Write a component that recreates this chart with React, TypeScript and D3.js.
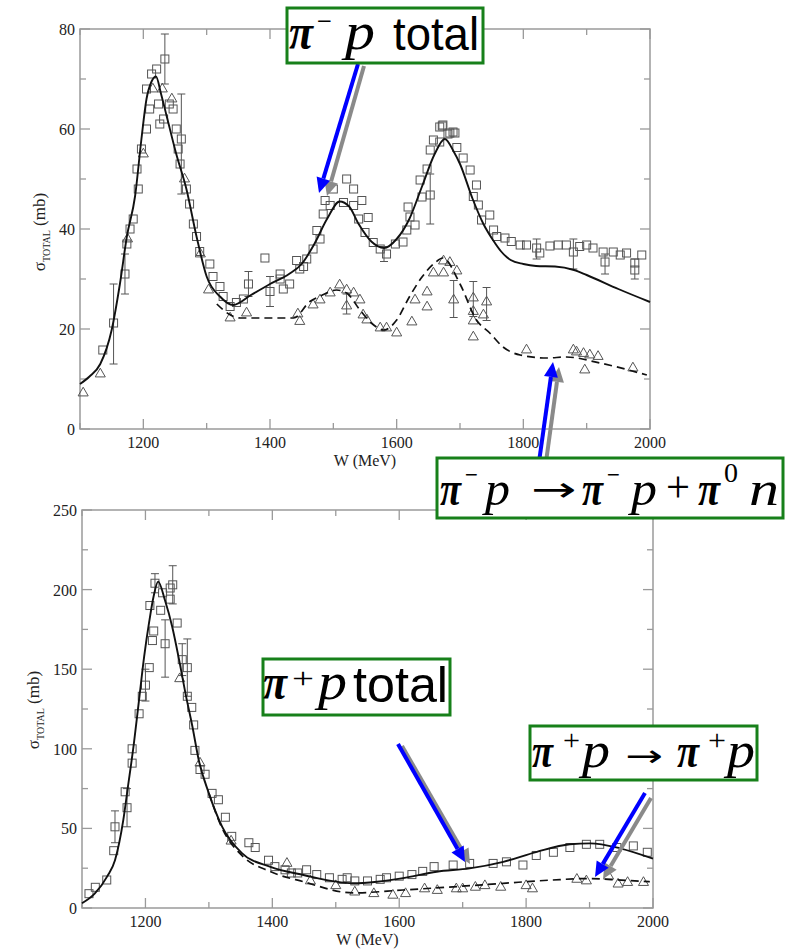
import React from 'react';
import * as d3 from 'd3';

type P = [number, number];
type E = [number, number, number];

// ---------- axis ticks ----------
const xMajorTicks = [1200, 1400, 1600, 1800, 2000];
const xMinorTicks = [1100, 1300, 1500, 1700, 1900];
const topYTicks = [0, 20, 40, 60, 80];
const topYMinor = [10, 30, 50, 70];
const botYTicks = [0, 50, 100, 150, 200, 250];
const botYMinor = [25, 75, 125, 175, 225];

// ---------- top panel: pi- p ----------
const topFitTotal: P[] = [
  [1100, 9], [1115, 10.5], [1132, 13], [1150, 19.8], [1163, 29], [1174, 38.5], [1187, 46.6],
  [1197, 58], [1205, 66], [1213, 69.5], [1220, 70.5], [1228, 67], [1237, 62.5], [1252, 55],
  [1268, 48], [1284, 38.5], [1300, 30.5], [1321, 26.5], [1342, 24.8], [1370, 26.8], [1400, 29],
  [1430, 31], [1450, 33], [1470, 37], [1490, 42], [1510, 45.5], [1525, 44.5], [1540, 41],
  [1560, 37.5], [1580, 36.2], [1600, 38], [1620, 42], [1640, 48.5], [1660, 55], [1676, 58],
  [1690, 55.5], [1700, 53], [1720, 46], [1737, 41], [1752, 37.8], [1765, 35.5], [1780, 33.8],
  [1800, 33], [1820, 32.6], [1850, 32.5], [1880, 31.8], [1900, 30.8], [1950, 28], [2000, 25.4],
];
const topFitDashed: P[] = [
  [1316, 25], [1335, 23], [1353, 22.2], [1400, 22.2], [1437, 22.2], [1463, 25.5], [1480, 26.6],
  [1505, 27.8], [1521, 27.2], [1542, 23.8], [1560, 21.2], [1580, 19.8], [1600, 21.8], [1620, 26.4],
  [1640, 30.4], [1660, 33.2], [1673, 34.2], [1700, 29], [1726, 21.8], [1747, 19.2], [1768, 16.4],
  [1795, 14.8], [1837, 14.2], [1868, 14.4], [1921, 13.2], [1995, 10.8],
];
const topSquares: P[] = [
  [1136, 15.8], [1153, 21.2], [1171, 31], [1174, 37], [1179, 40], [1184, 42], [1192, 48], [1190, 52],
  [1197, 56], [1205, 60], [1210, 64], [1205, 68], [1213, 71], [1221, 72], [1234, 74], [1224, 65],
  [1232, 62], [1226, 61], [1241, 65], [1247, 64], [1252, 60], [1260, 58], [1255, 56], [1258, 53],
  [1268, 48], [1273, 45], [1279, 41], [1284, 38.5], [1289, 35.5], [1305, 33], [1310, 30.5],
  [1321, 28.5], [1326, 26.5], [1337, 24.5], [1347, 25.3], [1358, 26], [1366, 29], [1392, 34.2],
  [1400, 27.5], [1416, 30], [1416, 31], [1421, 28], [1431, 29], [1442, 33.7], [1447, 32],
  [1453, 32.5], [1458, 34], [1468, 36], [1474, 39.7], [1479, 38], [1484, 43], [1487, 45.7],
  [1495, 44.7], [1500, 48], [1521, 50], [1532, 48], [1516, 45.3], [1532, 44.7], [1545, 45.7],
  [1540, 42], [1555, 42.3], [1550, 39.3], [1563, 37.3], [1574, 36], [1584, 35], [1598, 37],
  [1610, 37.4], [1616, 39.8], [1621, 42.4], [1618, 44.4], [1629, 40.8], [1637, 49.8], [1640, 46.4],
  [1653, 46.8], [1648, 52], [1653, 55.8], [1658, 57.8], [1668, 60.4], [1672, 60.6], [1684, 59.2],
  [1689, 59.4], [1668, 57.4], [1673, 60.8], [1681, 59], [1692, 59.2], [1695, 56.3], [1705, 54.2],
  [1716, 51.8], [1726, 48.8], [1721, 46.5], [1729, 44.8], [1734, 41.8], [1747, 42.8], [1753, 39.8],
  [1758, 38.5], [1771, 38.2], [1781, 37.5], [1795, 36.8], [1805, 36.8], [1821, 36.2], [1826, 35.2],
  [1842, 36.6], [1855, 36.8], [1868, 36.8], [1879, 35.4], [1889, 36.5], [1900, 36.8], [1910, 36.2],
  [1926, 35.4], [1929, 33.4], [1942, 35.4], [1953, 34.8], [1963, 35.2], [1976, 33.2], [1976, 31.8],
  [1987, 34.8],
];
const topSquareErr: E[] = [
  [1153, 21, 8], [1171, 31, 4], [1234, 74, 5], [1260, 57, 10], [1366, 29, 2.5], [1400, 27.5, 3],
  [1580, 35, 1.5], [1653, 46, 5], [1821, 36, 2], [1879, 35, 3], [1929, 33, 2], [1976, 32, 2],
];
const topTriangles: P[] = [
  [1105, 7.2], [1132, 11], [1175, 38], [1200, 55], [1215, 68], [1230, 68], [1245, 66], [1265, 50],
  [1290, 35], [1303, 27.8], [1337, 22.2], [1363, 23.2], [1444, 23], [1447, 21.5], [1468, 24.8],
  [1479, 25.8], [1495, 27.2], [1510, 28.8], [1521, 27.8], [1521, 24.6], [1532, 27.2], [1542, 25.8],
  [1547, 22.8], [1553, 21.8], [1574, 20.2], [1584, 20.2], [1600, 19.2], [1624, 21.4], [1629, 25.8],
  [1648, 27.4], [1648, 24.4], [1658, 31.2], [1674, 33.6], [1674, 31.2], [1684, 33.3], [1690, 25.8],
  [1695, 31.6], [1721, 26.2], [1742, 25.4], [1721, 23.5], [1737, 22.8], [1721, 21.6], [1721, 18.4],
  [1805, 15.8], [1879, 15.8], [1884, 15.4], [1895, 15.1], [1905, 14.8], [1918, 14.5], [1897, 11.8],
  [1973, 12.2],
];
const topTriangleErr: E[] = [
  [1521, 25, 2], [1690, 26, 3.7], [1721, 26, 3.5], [1742, 25, 3.3],
];

// ---------- bottom panel: pi+ p ----------
const botFitTotal: P[] = [
  [1100, 3], [1120, 9], [1140, 20], [1152, 30], [1165, 55], [1172, 75], [1182, 104], [1190, 131],
  [1198, 158], [1206, 180], [1213, 196], [1220, 205], [1231, 193], [1242, 177], [1253, 156],
  [1263, 135], [1274, 114], [1284, 93], [1300, 72], [1321, 51], [1352, 34.5], [1396, 26],
  [1449, 20.7], [1527, 15.5], [1565, 16.5], [1606, 18.8], [1659, 22.8], [1711, 24.9], [1764, 29],
  [1817, 35.3], [1869, 40], [1901, 40.6], [1948, 37.5], [2000, 31],
];
const botFitDashed: P[] = [
  [1300, 72], [1321, 50], [1352, 33], [1396, 23], [1449, 16.5], [1527, 9.5], [1606, 11.3],
  [1685, 13.3], [1764, 15.5], [1842, 17.6], [1895, 18.5], [1950, 17.5], [1995, 16.5],
];
const botSquares: P[] = [
  [1111, 9], [1121, 13], [1139, 17.6], [1150, 36], [1152, 51], [1171, 63], [1168, 73], [1179, 91],
  [1179, 100], [1190, 122], [1195, 133], [1200, 140], [1206, 151], [1211, 168], [1213, 174],
  [1207, 190], [1215, 204], [1227, 198], [1224, 187], [1231, 166], [1239, 201], [1239, 194],
  [1243, 203], [1250, 179], [1258, 156], [1266, 151], [1266, 133], [1273, 126], [1276, 115],
  [1278, 99], [1286, 87], [1294, 84], [1305, 72], [1315, 68], [1326, 57], [1336, 45], [1363, 41],
  [1373, 38], [1394, 30], [1404, 26], [1420, 24], [1430, 22], [1440, 22], [1454, 24], [1470, 21],
  [1490, 19], [1510, 18], [1518, 19], [1530, 17], [1550, 17], [1570, 18], [1580, 19], [1600, 20],
  [1620, 21], [1637, 23], [1655, 26], [1685, 27], [1711, 28], [1748, 28], [1769, 29], [1795, 27],
  [1816, 33], [1843, 35], [1869, 38], [1895, 40], [1916, 40], [1943, 38], [1969, 39], [1991, 35],
];
const botSquareErr: E[] = [
  [1152, 51, 10], [1171, 63, 12], [1200, 140, 10], [1215, 204, 6], [1231, 163, 18],
  [1243, 203, 12], [1258, 156, 10], [1266, 151, 18],
];
const botTriangles: P[] = [
  [1254, 144], [1286, 91], [1335, 42], [1423, 28], [1460, 17], [1500, 14], [1530, 10], [1560, 9],
  [1590, 8], [1610, 9], [1640, 12], [1660, 11], [1690, 12], [1700, 12], [1720, 13], [1735, 14],
  [1760, 13], [1800, 14], [1810, 12], [1880, 18], [1895, 17], [1930, 20], [1945, 15], [1960, 16],
  [1985, 16],
];

// ---------- styling ----------
const SERIF = '"Liberation Serif", "DejaVu Serif", serif';
const SANS = '"Liberation Sans", Arial, sans-serif';
const ARROWFONT = '"DejaVu Sans", sans-serif';
const FRAME = '#9a9a9a';
const GREEN = '#17801a';

type PanelProps = {
  x0: number; x1: number; y0: number; y1: number; yMax: number;
  yTicks: number[]; yMinor: number[];
  fit: P[]; dashed: P[]; squares: P[]; triangles: P[]; sqErr: E[]; trErr: E[];
  yLabelX: number; yLabelY: number;
};

function Panel(p: PanelProps) {
  const x = d3.scaleLinear().domain([1100, 2000]).range([p.x0, p.x1]);
  const y = d3.scaleLinear().domain([0, p.yMax]).range([p.y1, p.y0]);
  const line = d3.line<P>().x(d => x(d[0])).y(d => y(d[1])).curve(d3.curveMonotoneX);
  const tri = d3.symbol().type(d3.symbolTriangle).size(44)() as string;
  const major = 10, minor = 6;
  const err = (list: E[], key: string) =>
    list.map((e, i) => {
      const cx = x(e[0]);
      const ya = y(e[1] + e[2]), yb = y(e[1] - e[2]);
      return (
        <g key={key + i} stroke="#555" strokeWidth={1}>
          <line x1={cx} x2={cx} y1={ya} y2={yb} />
          <line x1={cx - 4} x2={cx + 4} y1={ya} y2={ya} />
          <line x1={cx - 4} x2={cx + 4} y1={yb} y2={yb} />
        </g>
      );
    });
  return (
    <g>
      <rect x={p.x0} y={p.y0} width={p.x1 - p.x0} height={p.y1 - p.y0} fill="none" stroke={FRAME} strokeWidth={1.5} />
      <g stroke={FRAME} strokeWidth={1.3}>
        {xMajorTicks.map(t => (
          <g key={'xm' + t}>
            <line x1={x(t)} x2={x(t)} y1={p.y1} y2={p.y1 - major} />
            <line x1={x(t)} x2={x(t)} y1={p.y0} y2={p.y0 + major} />
          </g>
        ))}
        {xMinorTicks.map(t => (
          <g key={'xn' + t}>
            <line x1={x(t)} x2={x(t)} y1={p.y1} y2={p.y1 - minor} />
            <line x1={x(t)} x2={x(t)} y1={p.y0} y2={p.y0 + minor} />
          </g>
        ))}
        {p.yTicks.map(t => (
          <g key={'ym' + t}>
            <line x1={p.x0} x2={p.x0 + major} y1={y(t)} y2={y(t)} />
            <line x1={p.x1} x2={p.x1 - major} y1={y(t)} y2={y(t)} />
          </g>
        ))}
        {p.yMinor.map(t => (
          <g key={'yn' + t}>
            <line x1={p.x0} x2={p.x0 + minor} y1={y(t)} y2={y(t)} />
            <line x1={p.x1} x2={p.x1 - minor} y1={y(t)} y2={y(t)} />
          </g>
        ))}
      </g>
      <g fontFamily={SERIF} fontSize={16} fill="#222">
        {xMajorTicks.map(t => (
          <text key={'xl' + t} x={x(t)} y={p.y1 + 19} textAnchor="middle">{t}</text>
        ))}
        {p.yTicks.map(t => (
          <text key={'yl' + t} x={p.x0 - 5} y={y(t) + 6} textAnchor="end">{t}</text>
        ))}
        <text x={(p.x0 + p.x1) / 2} y={p.y1 + 37} textAnchor="middle">W (MeV)</text>
        <text transform={`translate(${p.yLabelX},${p.yLabelY}) rotate(-90)`} textAnchor="middle" fontSize={17}>
          σ<tspan fontSize={10} dy={5}>TOTAL</tspan><tspan dy={-5}> (mb)</tspan>
        </text>
      </g>
      {err(p.sqErr, 'se')}
      {err(p.trErr, 'te')}
      <g fill="none" stroke="#555" strokeWidth={1}>
        {p.squares.map((d, i) => (
          <rect key={'s' + i} x={x(d[0]) - 4} y={y(d[1]) - 4} width={8} height={8} />
        ))}
        {p.triangles.map((d, i) => (
          <path key={'t' + i} d={tri} transform={`translate(${x(d[0])},${y(d[1])})`} />
        ))}
      </g>
      <path d={line(p.dashed) as string} fill="none" stroke="#111" strokeWidth={1.7} strokeDasharray="8,5" />
      <path d={line(p.fit) as string} fill="none" stroke="#111" strokeWidth={1.9} />
    </g>
  );
}

function Arrow({ from, tip, color, w }: { from: P; tip: P; color: string; w: number }) {
  const dx = tip[0] - from[0], dy = tip[1] - from[1];
  const len = Math.hypot(dx, dy);
  const ux = dx / len, uy = dy / len;
  const hl = 15, hw = 7;
  const bx = tip[0] - ux * hl, by = tip[1] - uy * hl;
  const pts = [
    [tip[0], tip[1]],
    [bx - uy * hw, by + ux * hw],
    [bx + uy * hw, by - ux * hw],
  ].map(q => q.join(',')).join(' ');
  return (
    <g>
      <line x1={from[0]} y1={from[1]} x2={bx} y2={by} stroke={color} strokeWidth={w} />
      <polygon points={pts} fill={color} />
    </g>
  );
}

function Sym({ x, y, s, c, italic = true, bold = false, fam = SERIF, w }: any) {
  return (
    <text x={x} y={y} fontSize={s} fontFamily={fam} fontStyle={italic ? 'italic' : 'normal'}
      fontWeight={bold ? 'bold' : 'normal'} fill="#000"
      {...(w ? { textLength: w, lengthAdjust: 'spacingAndGlyphs' } : {})}>{c}</text>
  );
}

function RArrow({ x, y, s, sx }: { x: number; y: number; s: number; sx: number }) {
  return (
    <text transform={`translate(${x},${y}) scale(${sx},1)`} fontSize={s} fontFamily={ARROWFONT} fill="#000">→</text>
  );
}

export default function App() {
  return (
    <svg width={796} height={952} style={{ position: 'absolute', left: 0, top: 0, background: '#fff' }}>
      <rect x={0} y={0} width={796} height={952} fill="#fff" />
      <Panel x0={80} x1={650} y0={29} y1={429} yMax={80} yTicks={topYTicks} yMinor={topYMinor}
        fit={topFitTotal} dashed={topFitDashed} squares={topSquares} triangles={topTriangles}
        sqErr={topSquareErr} trErr={topTriangleErr} yLabelX={45} yLabelY={232} />
      <Panel x0={82} x1={653} y0={510} y1={908} yMax={250} yTicks={botYTicks} yMinor={botYMinor}
        fit={botFitTotal} dashed={botFitDashed} squares={botSquares} triangles={botTriangles}
        sqErr={botSquareErr} trErr={[]} yLabelX={39} yLabelY={710} />

      <Arrow from={[364, 66]} tip={[327, 196]} color="#8a8a8a" w={4} />
      <Arrow from={[358, 64]} tip={[319, 193]} color="#0000ff" w={4} />
      <Arrow from={[546, 462]} tip={[559, 367]} color="#8a8a8a" w={4} />
      <Arrow from={[539, 462]} tip={[553, 362]} color="#0000ff" w={4} />
      <Arrow from={[402, 746]} tip={[470, 864]} color="#8a8a8a" w={4} />
      <Arrow from={[398, 744]} tip={[465, 862]} color="#0000ff" w={4} />
      <Arrow from={[651, 798]} tip={[603, 879]} color="#8a8a8a" w={4} />
      <Arrow from={[645, 793]} tip={[595, 877]} color="#0000ff" w={4} />

      {/* box 1 */}
      <rect x={287} y={8} width={196} height={55} fill="#fff" stroke={GREEN} strokeWidth={3} />
      <Sym x={289} y={49} s={50} c="π" bold w={24} />
      <Sym x={317} y={31} s={30} c="−" italic={false} w={15} />
      <Sym x={345} y={49} s={52} c="p" w={30} />
      <Sym x={393} y={50} s={46} c="total" italic={false} fam={SANS} w={86} />

      {/* box 2 */}
      <rect x={437} y={458} width={346} height={60} fill="#fff" stroke={GREEN} strokeWidth={3} />
      <Sym x={440} y={505} s={48} c="π" bold w={21} />
      <Sym x={465} y={484} s={28} c="−" italic={false} w={13} />
      <Sym x={485} y={505} s={48} c="p" w={25} />
      <RArrow x={531} y={501} s={34} sx={1.6} />
      <Sym x={582} y={505} s={48} c="π" bold w={21} />
      <Sym x={607} y={484} s={28} c="−" italic={false} w={13} />
      <Sym x={631} y={505} s={48} c="p" w={26} />
      <Sym x={666} y={502} s={44} c="+" italic={false} w={24} />
      <Sym x={698} y={505} s={48} c="π" bold w={22} />
      <Sym x={724} y={482} s={28} c="0" italic={false} w={14} />
      <Sym x={749} y={505} s={48} c="n" w={30} />

      {/* box 3 */}
      <rect x={263} y={659} width={187} height={56} fill="#fff" stroke={GREEN} strokeWidth={3} />
      <Sym x={263} y={699} s={50} c="π" bold w={24} />
      <Sym x={292} y={688} s={30} c="+" italic={false} w={22} />
      <Sym x={318} y={699} s={52} c="p" w={29} />
      <Sym x={353} y={702} s={50} c="total" italic={false} fam={SANS} w={95} />

      {/* box 4 */}
      <rect x={530} y={726} width={227} height={54} fill="#fff" stroke={GREEN} strokeWidth={3} />
      <Sym x={532} y={767} s={48} c="π" bold w={21} />
      <Sym x={563} y={750} s={30} c="+" italic={false} w={17} />
      <Sym x={582} y={767} s={50} c="p" w={28} />
      <RArrow x={625} y={766} s={30} sx={1.5} />
      <Sym x={677} y={767} s={48} c="π" bold w={22} />
      <Sym x={708} y={750} s={30} c="+" italic={false} w={18} />
      <Sym x={727} y={767} s={50} c="p" w={28} />
    </svg>
  );
}
